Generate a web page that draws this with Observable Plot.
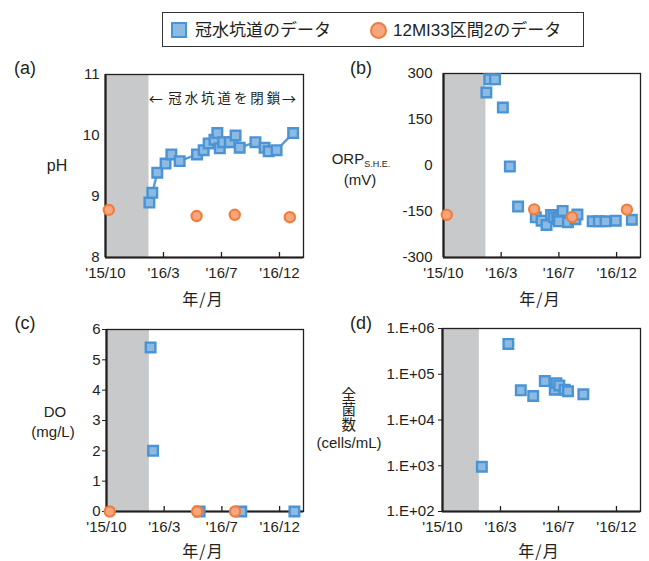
<!DOCTYPE html>
<html><head><meta charset="utf-8">
<script src="https://cdn.jsdelivr.net/npm/d3@7"></script>
<script src="https://cdn.jsdelivr.net/npm/@observablehq/plot@0.6"></script>
<style>
body{margin:0;background:#fff;}
#page{position:relative;width:649px;height:561px;font-family:"Liberation Sans","Noto Sans CJK JP",sans-serif;color:#231f20;overflow:hidden;background:#fff}
.abs{position:absolute;white-space:nowrap;line-height:1}
</style></head><body><div id="page"></div>
<script>
// ---------- data ----------
const xTickDates = ["2015-10-20","2016-03-08","2016-07-26","2016-12-13"];
const xTickLabels = ["'15/10","'16/3","'16/7","'16/12"];

// (a) pH
const phDates = ["2016-02-03","2016-02-10","2016-02-22","2016-03-13","2016-03-27","2016-04-16","2016-05-28",
  "2016-06-13","2016-06-25","2016-07-09","2016-07-16","2016-07-22","2016-07-30","2016-08-15","2016-08-29",
  "2016-09-08","2016-10-16","2016-11-07","2016-11-17","2016-12-06","2017-01-15"];
const phValues = [8.90,9.06,9.39,9.54,9.69,9.58,9.69,9.76,9.87,9.93,10.04,9.79,9.89,9.89,10.00,9.80,9.89,9.80,9.74,9.76,10.04];
const refDates = ["2015-10-28","2016-05-27","2016-08-27","2017-01-07"];
const phRefValues = [8.78,8.68,8.70,8.66];
const phTicks = [8,9,10,11];

// (b) ORP (S.H.E., mV)
const orpDates = ["2016-02-01","2016-02-08","2016-02-22","2016-03-12","2016-03-29","2016-04-18","2016-05-31",
  "2016-06-14","2016-06-26","2016-07-07","2016-07-14","2016-07-22","2016-07-26","2016-08-04","2016-08-17",
  "2016-09-04","2016-09-09","2016-10-16","2016-10-31","2016-11-16","2016-12-11","2017-01-19"];
const orpValues = [238,281,281,189,-3,-134,-169,-180,-194,-161,-169,-175,-182,-148,-185,-175,-160,-182,-182,-182,-180,-177];
const orpRefValues = [-161,-143,-168,-144];
const orpTicks = [-300,-150,0,150,300];

// (c) DO (mg/L)
const doDates = ["2016-02-04","2016-02-10","2016-06-02","2016-09-11","2017-01-18"];
const doValues = [5.41,2.0,0,0,0];
const doRefDates = ["2015-10-28","2016-05-27","2016-08-27"];
const doRefValues = [0,0,0];
const doTicks = [0,1,2,3,4,5,6];

// (d) total cell count (cells/mL)
const cellDates = ["2016-01-23","2016-03-27","2016-04-26","2016-05-26","2016-06-23","2016-07-17","2016-07-21",
  "2016-07-28","2016-08-10","2016-08-18","2016-09-24"];
const cellValues = [950,460000,44600,33500,71000,46000,64000,57000,46000,42500,36500];
const cellTicks = [1e2,1e3,1e4,1e5,1e6];
const cellTickLabels = ["1.E+02","1.E+03","1.E+04","1.E+05","1.E+06"];

// flooded-gallery period (grey band) end per panel
const grayEnds = {a:"2016-02-02", b:"2016-01-31", c:"2016-02-01", d:"2016-01-17"};
const xDomain = ["2015-10-20","2017-02-09"];

// ---------- styles ----------
const ink = "#231f20";
const gray = "#c8c9cb";
const blueFill = "#8dbae3", blueStroke = "#4a93d4", lineBlue = "#5b9bd8";
const orFill = "#f6a57c", orStroke = "#ef7d3c";
const font = "'Liberation Sans','Noto Sans CJK JP',sans-serif";
const cjk = "'Noto Sans CJK JP',sans-serif";

const page = document.getElementById("page");
const D = s => new Date(s);
const rows = (ds, vs) => ds.map((d, i) => ({date: D(d), value: vs[i]}));
const xLabelMap = new Map(xTickDates.map((d, i) => [+D(d), xTickLabels[i]]));

function put(html, x, y, opts = {}) {
  const el = document.createElement("div");
  el.className = "abs";
  el.innerHTML = html;
  const {size = 15, anchor = "middle", family, spacing, vertical} = opts;
  el.style.fontSize = size + "px";
  if (family) el.style.fontFamily = family;
  if (spacing) el.style.letterSpacing = spacing + "px";
  if (vertical) el.style.writingMode = "vertical-rl";
  el.style.left = x + "px"; el.style.top = y + "px";
  el.style.transform = anchor === "middle" ? "translate(-50%,-50%)" : "translate(0,-50%)";
  page.appendChild(el);
  return el;
}

const squares = data => Plot.dot(data, {x: "date", y: "value", symbol: "square", r: 5.4, fill: blueFill, stroke: blueStroke, strokeWidth: 2.4});
const circles = data => Plot.dot(data, {x: "date", y: "value", r: 5.1, fill: orFill, stroke: orStroke, strokeWidth: 2.2});

function panel(cfg) {
  const {left, top, width, height, mt, mr, mb, ml, y, yTicks, yFmt, ytSize, ytPad, grayEnd, marks} = cfg;
  const fh = height - mt - mb;
  const [yLo, yHi] = y.domain;
  const svg = Plot.plot({
    width, height, marginTop: mt, marginRight: mr, marginBottom: mb, marginLeft: ml,
    style: {fontFamily: font, fontSize: "15px", color: ink, background: "transparent", overflow: "visible"},
    x: {type: "utc", domain: xDomain.map(D)},
    y,
    marks: [
      Plot.rect([0], {x1: () => D(xDomain[0]), x2: () => D(grayEnd), y1: () => yLo, y2: () => yHi, fill: gray}),
      Plot.frame({stroke: ink, strokeWidth: 1.3}),
      Plot.tickX(xTickDates.slice(1).map(D), {x: d => d, stroke: ink, strokeWidth: 1.3, insetTop: fh - 5}),
      Plot.ruleX([D(xDomain[0])], {stroke: ink, strokeWidth: 2.2}),
      Plot.ruleY([yLo], {stroke: ink, strokeWidth: 2.2}),
      Plot.axisX(xTickDates.map(D), {tickFormat: d => xLabelMap.get(+d), tickSize: 0, tickPadding: 10, label: null, fill: ink}),
      Plot.axisY(yTicks, {tickFormat: yFmt, tickSize: ytSize, tickPadding: ytPad, label: null, fill: ink, stroke: ink}),
      ...marks
    ]
  });
  svg.style.position = "absolute";
  svg.style.left = left + "px";
  svg.style.top = top + "px";
  page.appendChild(svg);
}

// (a)
panel({left: 0, top: 60, width: 320, height: 230, mt: 14, mr: 17, mb: 33, ml: 105,
  y: {domain: [8, 11]}, yTicks: phTicks, yFmt: d => String(d), ytSize: 0, ytPad: 6, grayEnd: grayEnds.a,
  marks: [
    Plot.line(rows(phDates, phValues), {x: "date", y: "value", stroke: lineBlue, strokeWidth: 2.4}),
    squares(rows(phDates, phValues)),
    circles(rows(refDates, phRefValues))
  ]});

// (b)
panel({left: 320, top: 60, width: 329, height: 230, mt: 13, mr: 9, mb: 33, ml: 123,
  y: {domain: [-300, 300]}, yTicks: orpTicks, yFmt: d => String(d), ytSize: 0, ytPad: 11, grayEnd: grayEnds.b,
  marks: [squares(rows(orpDates, orpValues)), circles(rows(refDates, orpRefValues))]});

// (c)
panel({left: 0, top: 315, width: 320, height: 230, mt: 14, mr: 17, mb: 34, ml: 106,
  y: {domain: [0, 6]}, yTicks: doTicks, yFmt: d => String(d), ytSize: 4, ytPad: 2, grayEnd: grayEnds.c,
  marks: [squares(rows(doDates, doValues)), circles(rows(doRefDates, doRefValues))]});

// (d)
const cellLabelMap = new Map(cellTicks.map((t, i) => [t, cellTickLabels[i]]));
panel({left: 320, top: 315, width: 329, height: 230, mt: 13, mr: 9, mb: 34, ml: 122,
  y: {type: "log", domain: [1e2, 1e6]}, yTicks: cellTicks, yFmt: d => cellLabelMap.get(d), ytSize: 4, ytPad: 4, grayEnd: grayEnds.d,
  marks: [squares(rows(cellDates, cellValues))]});

// ---------- texts ----------
put("(a)", 25, 67.5, {size: 18});
put("(b)", 361, 67.5, {size: 18});
put("(c)", 25, 323, {size: 18});
put("(d)", 361, 323, {size: 18});

put("pH", 57, 166, {size: 16});
put('ORP<span style="font-size:9px;position:relative;top:3px">S.H.E.</span>', 331.7, 157.5, {size: 15, anchor: "start"});
put("(mV)", 360, 179, {size: 15});
put("DO", 55, 411, {size: 15});
put("(mg/L)", 53, 431, {size: 15});
put("全菌数", 348, 410, {size: 14.5, family: cjk, spacing: 0.5, vertical: true});
put("(cells/mL)", 349, 442, {size: 15});

put("年/月", 203, 298, {size: 16, family: cjk, spacing: 1});
put("年/月", 540, 298, {size: 16, family: cjk, spacing: 1});
put("年/月", 203, 550, {size: 16, family: cjk, spacing: 1});
put("年/月", 539, 550, {size: 16, family: cjk, spacing: 1});

// closure annotation in (a)
put("←", 155.8, 97.7, {size: 14, family: cjk});
put("冠水坑道を閉鎖", 168.3, 97.7, {size: 13.5, family: cjk, spacing: 2.9, anchor: "start"});
put("→", 289, 97.7, {size: 14, family: cjk});

// ---------- legend ----------
const box = document.createElement("div");
box.style.cssText = "position:absolute;left:162px;top:12px;width:420px;height:33px;border:1.5px solid #333;box-sizing:content-box";
page.appendChild(box);
const sq = document.createElement("div");
sq.style.cssText = `position:absolute;left:171px;top:22px;width:12px;height:12px;background:${blueFill};border:2px solid ${blueStroke}`;
page.appendChild(sq);
put("冠水坑道のデータ", 195, 29.5, {size: 17, anchor: "start"});
const ci = document.createElement("div");
ci.style.cssText = `position:absolute;left:369.5px;top:21.5px;width:13px;height:13px;border-radius:50%;background:${orFill};border:2px solid ${orStroke}`;
page.appendChild(ci);
put("12MI33区間2のデータ", 393, 29.5, {size: 17, anchor: "start"});
</script></body></html>
